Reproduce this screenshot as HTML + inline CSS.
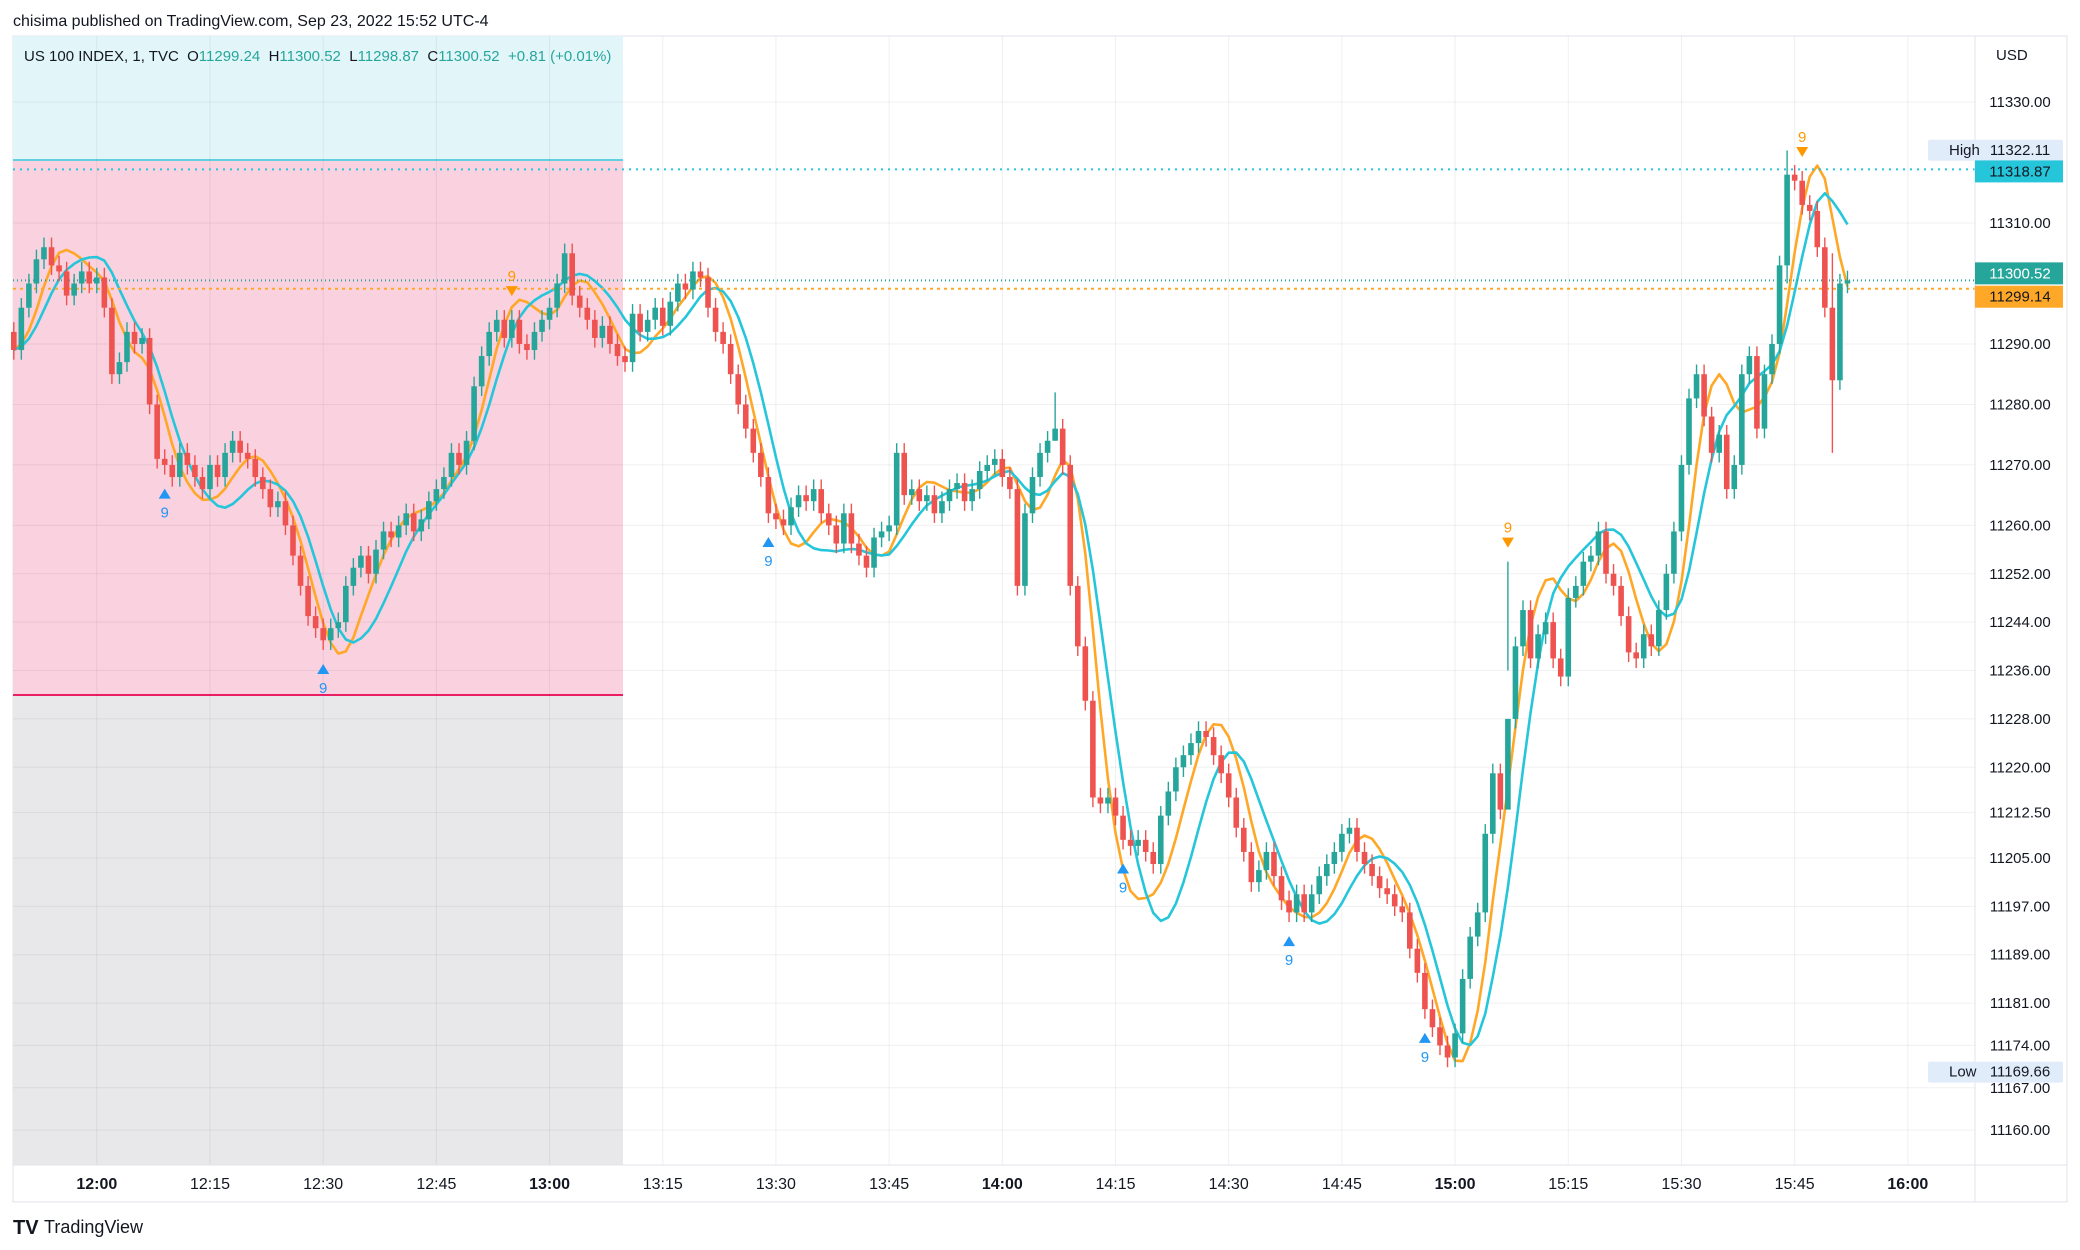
<!DOCTYPE html>
<html><head><meta charset="utf-8"><style>
html,body{margin:0;padding:0;background:#fff;width:2080px;height:1250px;overflow:hidden;font-family:"Liberation Sans",sans-serif}
svg text{font-family:"Liberation Sans",sans-serif}
</style></head><body>
<svg id="chart" width="2080" height="1250" viewBox="0 0 2080 1250" xmlns="http://www.w3.org/2000/svg">
<text x="13" y="26" font-size="16" fill="#131722">chisima published on TradingView.com, Sep 23, 2022 15:52 UTC-4</text>
<g id="bg"></g><g id="grid"></g><g id="lines"></g><g id="candles"></g><g id="marks"></g><g id="axes"></g>
<text x="44" y="1233" font-size="18" fill="#131722">TradingView</text>
<text x="13" y="1234" font-size="20" font-weight="bold" fill="#131722">TV</text>
</svg>
<script>
const startMinute = 709; // 11:49
const closes = [
11289,11296,11300,11304,11306,11303,11302,11298,11300,11302,11300,
11301,11296,11285,11287,11292,11290,11291,11280,11271,11270,
11268,11272,11270,11268,11266,11270,11268,11272,11274,11272,
11271,11268,11266,11263,11264,11260,11255,11250,11245,11243,
11241,11243,11244,11250,11253,11255,11252,11256,11259,11258,
11260,11262,11259,11261,11264,11266,11268,11272,11270,11274,
11283,11288,11292,11294,11291,11294,11290,11289,11292,11294,
11296,11300,11305,11298,11296,11294,11291,11293,11290,11288,
11287,11295,11292,11294,11296,11293,11297,11300,11299,11302,
11301,11296,11292,11290,11285,11280,11276,11272,11268,11262,
11261,11260,11263,11265,11264,11266,11262,11260,11257,11262,
11257,11255,11253,11258,11259,11260,11272,11265,11266,11264,
11265,11262,11264,11266,11267,11264,11266,11269,11270,11271,
11268,11266,11250,11262,11268,11272,11274,11276,11270,11250,
11240,11231,11215,11214,11215,11212,11208,11207,11208,11206,
11204,11212,11216,11220,11222,11224,11226,11225,11222,11219,
11215,11210,11206,11201,11203,11206,11202,11198,11196,11199,
11196,11199,11202,11204,11206,11209,11210,11206,11204,11202,
11200,11199,11197,11196,11190,11186,11180,11177,11174,11172,
11176,11185,11192,11196,11209,11219,11213,11228,11240,11246,
11238,11242,11244,11238,11235,11248,11250,11254,11255,11259,
11252,11250,11245,11239,11238,11242,11240,11246,11252,11259,
11270,11281,11285,11278,11272,11275,11266,11270,11285,11288,
11276,11285,11290,11303,11318,11317,11313,11312,11306,11296,
11284,11300,11300.52];
const firstOpen = 11292;
const wickSize = 1.6;
const bigWicks = {138:[11282,11274],198:[11254,11236],235:[11322,11300],241:[11305,11272]};
const yTicks = [11330,11310,11290,11280,11270,11260,11252,11244,11236,11228,11220,11212.5,11205,11197,11189,11181,11174,11167,11160];
const xTickMinutes = [720,735,750,765,780,795,810,825,840,855,870,885,900,915,930,945,960];
const upMarks = [20,41,100,147,169,187];
const downMarks = [66,198,237];

const L=13,T=36,R=2067,B=1202,PR=1975,TB=1165;
const y = p => 102.1 + (11330 - p) * 6.047;
const x = m => 96.8 + (m - 720) * 7.546;
const NS='http://www.w3.org/2000/svg';
function el(tag, attrs, parent, txt){const e=document.createElementNS(NS,tag);for(const k in attrs)e.setAttribute(k,attrs[k]);if(txt!==undefined)e.textContent=txt;parent.appendChild(e);return e;}
const bg=document.getElementById('bg'),grid=document.getElementById('grid'),lines=document.getElementById('lines'),cg=document.getElementById('candles'),mk=document.getElementById('marks'),ax=document.getElementById('axes');

let r=el('rect',{x:L,y:T,width:R-L,height:B-T,fill:'#fff',stroke:'#e0e3eb'},bg);


r=el('rect',{x:L,y:T,width:610,height:124,fill:'#e2f6fa'},bg);


r=el('rect',{x:L,y:160,width:610,height:535,fill:'#fad1df'},bg);


r=el('rect',{x:L,y:695,width:610,height:TB-695,fill:'#e8e8ea'},bg);


r=el('line',{x1:L,x2:623,y1:695,y2:695,stroke:'#e91e63','stroke-width':2},bg);


r=el('line',{x1:L,x2:623,y1:160,y2:160,stroke:'#5fd0e0','stroke-width':2},bg);



yTicks.forEach(p=>{
  const g=el('line',{x1:L,x2:PR,y1:y(p),y2:y(p),stroke:'rgba(42,46,57,0.07)'},grid);
  
  
  const t=el('text',{x:2020,y:y(p)+5,'font-size':15,fill:'#131722','text-anchor':'middle'},ax,p.toFixed(2));
  
  
});
xTickMinutes.forEach(m=>{
  const g=el('line',{x1:x(m),x2:x(m),y1:T,y2:TB,stroke:'rgba(42,46,57,0.07)'},grid);
  
  
  const hh=Math.floor(m/60),mm=m%60;
  const t=el('text',{x:x(m),y:1189,'font-size':16,fill:'#131722','text-anchor':'middle','font-weight':mm===0?'bold':'normal'},ax,hh+':'+(mm<10?'0':'')+mm);
  
  
});
let a=el('line',{x1:PR,x2:PR,y1:T,y2:B,stroke:'#e0e3eb'},ax);


a=el('line',{x1:L,x2:R,y1:TB,y2:TB,stroke:'#e0e3eb'},ax);


a=el('text',{x:1996,y:60,'font-size':15,fill:'#131722'},ax,'USD');



const opens=closes.map((c,i)=>i===0?firstOpen:closes[i-1]);
const highs=closes.map((c,i)=>bigWicks[i]?bigWicks[i][0]:Math.max(c,opens[i])+wickSize);
const lows=closes.map((c,i)=>bigWicks[i]?bigWicks[i][1]:Math.min(c,opens[i])-wickSize);

function wma(arr,n){return arr.map((v,i)=>{let s=0,w=0;for(let k=0;k<n;k++){const j=Math.max(0,i-k);s+=arr[j]*(n-k);w+=n-k;}return s/w;});}
function hma(arr,n){const a=wma(arr,Math.round(n/2)),b=wma(arr,n);const d=a.map((v,i)=>2*v-b[i]);return wma(d,Math.round(Math.sqrt(n)));}
const cyanLine=hma(closes,22);
const orangeLine=hma(closes,14);
function path(vals,color,name){
  const d=vals.map((v,i)=>(i?'L':'M')+x(startMinute+i).toFixed(1)+' '+y(v).toFixed(1)).join(' ');
  const p=el('path',{d,fill:'none',stroke:color,'stroke-width':2.6,'stroke-linejoin':'round'},lines);
  
  
}
path(orangeLine,'#ffa726','orange-moving-average');
path(cyanLine,'#26c6da','cyan-moving-average');

closes.forEach((c,i)=>{
  const o=opens[i],cx=x(startMinute+i),up=c>=o,col=up?'#26a69a':'#ef5350';
  const w=el('line',{x1:cx,x2:cx,y1:y(highs[i]),y2:y(lows[i]),stroke:col,'stroke-width':1.4},cg);
  
  
  const top=y(Math.max(o,c)),h=Math.max(1.5,y(Math.min(o,c))-top);
  const b=el('rect',{x:cx-2.8,y:top,width:5.6,height:h,fill:col},cg);
  
  
});

upMarks.forEach(i=>{
  const cx=x(startMinute+i),yy=y(lows[i])+14;
  const t=el('path',{d:`M${cx-6} ${yy+10} L${cx+6} ${yy+10} L${cx} ${yy} Z`,fill:'#2196f3'},mk);
  
  
  const n=el('text',{x:cx,y:yy+29,'font-size':15,fill:'#2196f3','text-anchor':'middle'},mk,'9');
  
  
});
downMarks.forEach(i=>{
  const cx=x(startMinute+i),yy=y(highs[i])-14;
  const t=el('path',{d:`M${cx-6} ${yy-10} L${cx+6} ${yy-10} L${cx} ${yy} Z`,fill:'#ff9800'},mk);
  
  
  const n=el('text',{x:cx,y:yy-15,'font-size':15,fill:'#ff9800','text-anchor':'middle'},mk,'9');
  
  
});

const lastPrice = closes[closes.length-1], cyanLast = 11318.87, orangeLast = 11299.14, hi = 11322.11, lo = 11169.66;
[[cyanLast,'#26c6da','2 5','cyan-ma-price-line'],[lastPrice,'#26a69a','1 3','last-price-line'],[orangeLast,'#ffa726','3 4','orange-ma-price-line']].forEach(([p,c,da,n])=>{
  const l=el('line',{x1:L,x2:PR,y1:y(p),y2:y(p),stroke:c,'stroke-width':2,'stroke-dasharray':da},lines);
  
  
});
function badge(p,bgc,fg,name,dy){
  const yy=y(p)+(dy||0);
  const b=el('rect',{x:PR,y:yy-11,width:88,height:22,fill:bgc},ax);
  
  
  const t=el('text',{x:2020,y:yy+5,'font-size':15,fill:fg,'text-anchor':'middle'},ax,p.toFixed(2));
  
  
}
function hl(p,label,name){
  const yy=y(p);
  const b=el('rect',{x:1928,y:yy-10,width:135,height:21,fill:'#e1ecfb',rx:2},ax);
  
  
  const t1=el('text',{x:1949,y:yy+5,'font-size':15,fill:'#131722'},ax,label);
  
  
  const t2=el('text',{x:2020,y:yy+5,'font-size':15,fill:'#131722','text-anchor':'middle'},ax,p.toFixed(2));
  
  
}
hl(hi,'High','high-marker');
hl(lo,'Low','low-marker');
badge(cyanLast,'#26c6da','#131722','cyan-ma-price-badge',2);
badge(lastPrice,'#26a69a','#fff','last-price-badge',-7);
badge(orangeLast,'#ffa726','#131722','orange-ma-price-badge',8);

const lg=el('text',{x:24,y:61,'font-size':15,fill:'#131722'},ax);


[['US 100 INDEX, 1, TVC  O','#131722'],['11299.24','#26a69a'],['  H','#131722'],['11300.52','#26a69a'],['  L','#131722'],['11298.87','#26a69a'],['  C','#131722'],['11300.52','#26a69a'],['  +0.81 (+0.01%)','#26a69a']].forEach(([s,c])=>{
  el('tspan',{fill:c},lg,s);
});
lg.setAttribute('style','white-space:pre');
</script>
</body></html>
